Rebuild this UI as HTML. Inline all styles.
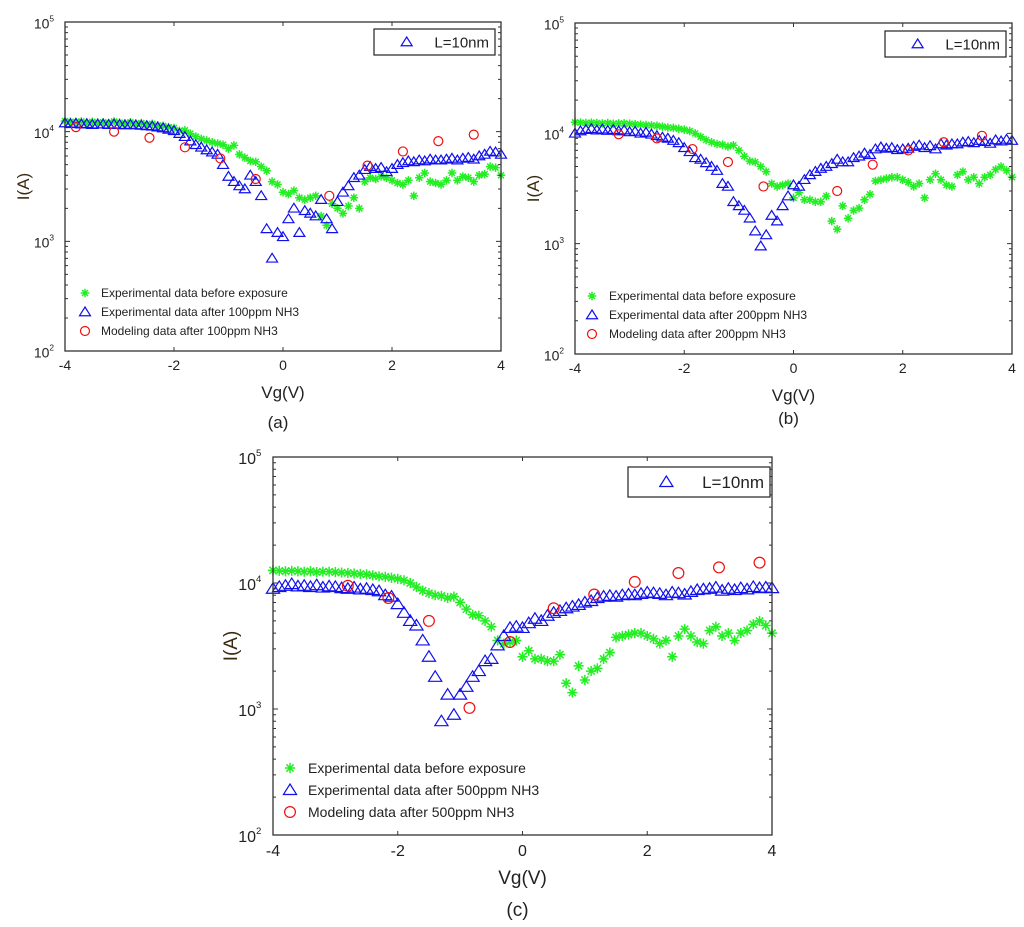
<!DOCTYPE html>
<html><head><meta charset="utf-8">
<style>
html,body{margin:0;padding:0;background:#fff;}
svg{display:block;font-family:"Liberation Sans",Arial,sans-serif;}
</style></head>
<body>
<svg id="fig" width="1024" height="927" viewBox="0 0 1024 927" xmlns="http://www.w3.org/2000/svg"></svg>
<script>
// shared x grid for dense series: -4..4 step 0.1
const vgGrid = [];
for (let i = 0; i <= 80; i++) vgGrid.push(Math.round((-4 + i * 0.1) * 10) / 10);

// Panel (a) data
const aGreen = [12500,12300,12200,12400,12000,12300,12100,12200,12000,12400,12100,11900,12200,11800,12000,11600,11800,11400,11300,11000,
 10800,10200,10300,9600,9000,8600,8300,8000,7800,7600,
 7000,7500,6200,5800,5400,5300,4800,4400,3500,3300,
 2800,2700,2900,2500,2400,2500,2600,1700,1400,2200,
 2000,1800,2100,2500,2000,3500,3800,3700,3900,3800,
 3600,3400,3300,3600,2600,3800,4200,3500,3400,3300,
 3600,4200,3600,3900,3800,3500,4000,4100,4800,4700,4000];
const aBlue = [12000,11800,11900,11700,11800,11600,11700,11700,11600,11700,11600,11500,11600,11500,11400,11300,11200,11000,10800,10500,
 10200,9600,9000,8200,7600,7200,6800,6500,6200,5000,
 3900,3500,3200,3000,4000,3500,2600,1300,700,1200,
 1100,1600,2000,1200,1900,1800,1700,2400,1600,1300,
 2300,2800,3200,3800,4000,4500,4800,4600,4700,4300,
 4600,5000,5200,5400,5300,5500,5400,5600,5500,5500,
 5600,5700,5500,5700,5800,5600,6000,6200,6600,6500,6200];
const aRedX = [-3.8,-3.1,-2.45,-1.8,-1.15,-0.5,0.85,1.55,2.2,2.85,3.5];
const aRedY = [11000,10000,8800,7200,5700,3700,2600,4900,6600,8200,9400];

// Panel (b) data
const bGreen = [12600,12500,12400,12500,12400,12300,12400,12200,12300,12300,12200,12100,12000,11900,11800,11700,11500,11300,11200,11000,
 10800,10500,10000,9300,8700,8300,8000,7900,7600,7800,
 7000,6200,5600,5500,5000,4500,3500,3300,3400,3500,
 2600,2900,2500,2500,2400,2400,2700,1600,1350,2200,
 1700,2000,2100,2500,2800,3700,3800,3900,4000,4000,
 3800,3600,3300,3500,2600,3800,4300,3800,3400,3300,
 4200,4500,3800,4000,3500,4000,4200,4700,5000,4600,4000];
const bBlue = [10000,10500,10800,11000,10700,10900,10600,10800,10500,10700,10300,10400,10000,10200,9800,9500,9200,9000,8600,8200,
 7400,6800,6000,5800,5400,5000,4600,3500,3300,2400,
 2200,2000,1700,1300,950,1200,1800,1600,2200,2700,
 3400,3300,3800,4200,4500,4800,5000,5300,5800,5500,
 5500,6000,6200,6600,6400,7200,7500,7300,7400,7100,
 7200,7300,7600,7800,7400,7700,7200,8000,7800,8000,
 8000,8300,8400,8200,8600,8400,8100,8700,8500,8800,8600];
const bRedX = [-3.2,-2.5,-1.85,-1.2,-0.55,0.8,1.45,2.1,2.75,3.45];
const bRedY = [9800,9000,7200,5500,3300,3000,5200,7000,8300,9500];

// Panel (c) data
const cGreen = bGreen.slice();
const cBlue = [9000,9300,9500,9800,9400,9500,9300,9600,9200,9400,9300,9100,9000,9200,8900,9000,8800,8600,8000,7800,
 6800,5800,5000,4600,3500,2600,1800,800,1300,900,
 1300,1500,1800,2000,2400,2500,3200,3800,4400,4500,
 4400,4800,5200,5000,5500,5800,6000,6300,6500,6700,
 7000,7200,7600,7800,7900,7800,8000,8100,8000,8200,
 8400,8300,8200,8000,8400,8300,8100,8500,8800,8900,
 9000,9200,8700,9000,8800,9100,8900,9300,9100,9200,9100];
const cRedX = [-2.8,-2.15,-1.5,-0.85,-0.2,0.5,1.15,1.8,2.5,3.15,3.8];
const cRedY = [9500,7600,5000,1020,3400,6300,8100,10200,12000,13300,14500];

const xTicks = [-4,-2,0,2,4];
const yDecades = [2,3,4,5];

const NS = "http://www.w3.org/2000/svg";
const svg = document.getElementById('fig');
function mk(tag, attrs, parent) {
  const e = document.createElementNS(NS, tag);
  for (const k in attrs) e.setAttribute(k, attrs[k]);
  (parent || svg).appendChild(e);
  return e;
}

function star(g, cx, cy, s) {
  const p = mk('path', {d:`M${cx-s},${cy}H${cx+s}M${cx},${cy-s}V${cy+s}M${cx-s*0.7},${cy-s*0.7}L${cx+s*0.7},${cy+s*0.7}M${cx-s*0.7},${cy+s*0.7}L${cx+s*0.7},${cy-s*0.7}`, stroke:'#22ee22', 'stroke-width':1.5, fill:'none'}, g);
  
  
}
function tri(g, cx, cy, s) {
  const p = mk('path', {d:`M${cx},${cy-s}L${cx+s*1.1},${cy+s*0.75}L${cx-s*1.1},${cy+s*0.75}Z`, stroke:'#1010ee', 'stroke-width':1.2, fill:'none'}, g);
  
  
}
function circ(g, cx, cy, r) {
  const c = mk('circle', {cx:cx, cy:cy, r:r, stroke:'#ee1111', 'stroke-width':1.2, fill:'none'}, g);
  
  
}

function panel(id, P, green, blue, redX, redY, ppm, opt) {
  const g = mk('g', {});
  
  
  const xs = v => P.x0 + (v + 4) / 8 * (P.x1 - P.x0);
  const ys = v => P.y1 - (Math.log10(v) - 2) / 3 * (P.y1 - P.y0);
  const gg = mk('g', {}, g);
  
  
  green.forEach((v, i) => star(gg, xs(vgGrid[i]), ys(v), opt.ms * 0.85));
  const bg = mk('g', {}, g);
  
  
  blue.forEach((v, i) => tri(bg, xs(vgGrid[i]), ys(v), opt.ms));
  const rg = mk('g', {}, g);
  
  
  redX.forEach((x, i) => circ(rg, xs(x), ys(redY[i]), opt.ms * 0.9));
  const fr = mk('rect', {x:P.x0, y:P.y0, width:P.x1-P.x0, height:P.y1-P.y0, fill:'none', stroke:'#333', 'stroke-width':1.3}, g);
  
  
  xTicks.forEach(t => {
    const x = xs(t);
    mk('path', {d:`M${x},${P.y1}v-4M${x},${P.y0}v4`, stroke:'#333'}, g);
    const tx = mk('text', {x:x, y:P.y1 + opt.fs + 5, 'font-size':opt.fs, 'text-anchor':'middle', fill:'#222'}, g);
    tx.textContent = t;
    
    
  });
  yDecades.forEach(d => {
    const y = ys(Math.pow(10, d));
    mk('path', {d:`M${P.x0},${y}h5M${P.x1},${y}h-5`, stroke:'#333'}, g);
    if (d < 5) for (let m = 2; m <= 9; m++) {
      const yy = ys(m * Math.pow(10, d));
      mk('path', {d:`M${P.x0},${yy}h3M${P.x1},${yy}h-3`, stroke:'#333'}, g);
    }
    const tx = mk('text', {x:P.x0 - 6 - opt.fs * 0.35, y:y + opt.fs * 0.45, 'font-size':opt.fs, 'text-anchor':'end', fill:'#222'}, g);
    
    
    tx.textContent = '10';
    const sup = mk('tspan', {'font-size':opt.fs * 0.6, dy:-opt.fs * 0.5}, tx);
    sup.textContent = d;
  });
  const xl = mk('text', {x:(P.x0+P.x1)/2, y:P.y1 + opt.fs + 33, 'font-size':opt.fs + 3, 'text-anchor':'middle', fill:'#222'}, g);
  xl.textContent = 'Vg(V)';
  
  
  const yl = mk('text', {x:0, y:0, 'font-size':opt.fs + 3, 'text-anchor':'middle', fill:'#3a2a10', transform:`translate(${P.x0 - 36},${(P.y0+P.y1)/2}) rotate(-90)`}, g);
  yl.textContent = 'I(A)';
  
  
  const cap = mk('text', {x:(P.x0+P.x1)/2 - 5, y:opt.capY, 'font-size':opt.fs + 3, 'text-anchor':'middle', fill:'#222'}, g);
  cap.textContent = '(' + id + ')';
  
  
  const lb = mk('g', {}, g);
  
  
  mk('rect', {x:opt.box[0], y:opt.box[1], width:opt.box[2], height:opt.box[3], fill:'#fff', stroke:'#222', 'stroke-width':1.2}, lb);
  tri(lb, opt.box[0] + opt.box[2]*0.27, opt.box[1] + opt.box[3]/2, opt.ms);
  const lt = mk('text', {x:opt.box[0] + opt.box[2] - 6, y:opt.box[1] + opt.box[3]/2 + opt.fs*0.38, 'font-size':opt.fs + 1, 'text-anchor':'end', fill:'#222'}, lb);
  lt.textContent = 'L=10nm';
  const lg = mk('g', {}, g);
  
  
  const labels = ['Experimental data before exposure', 'Experimental data after ' + ppm + 'ppm NH3', 'Modeling data after ' + ppm + 'ppm NH3'];
  labels.forEach((s, i) => {
    const y = opt.leg[1] + i * opt.leg[2];
    if (i === 0) star(lg, opt.leg[0], y, opt.ms * 0.85);
    if (i === 1) tri(lg, opt.leg[0], y, opt.ms);
    if (i === 2) circ(lg, opt.leg[0], y, opt.ms * 0.9);
    const t = mk('text', {x:opt.leg[0] + opt.leg[3], y:y + opt.lfs * 0.35, 'font-size':opt.lfs, fill:'#222'}, lg);
    t.textContent = s;
    
    
  });
}

panel('a', {x0:65, x1:501, y0:22, y1:351}, aGreen, aBlue, aRedX, aRedY, 100,
  {ms:5, fs:14, capY:428, box:[374,29,121,26], leg:[85,293,19,16], lfs:12});
panel('b', {x0:575, x1:1012, y0:23, y1:354}, bGreen, bBlue, bRedX, bRedY, 200,
  {ms:5, fs:14, capY:424, box:[885,31,121,26], leg:[592,296,19,17], lfs:12});
panel('c', {x0:273, x1:772, y0:457, y1:835}, cGreen, cBlue, cRedX, cRedY, 500,
  {ms:6, fs:16, capY:916, box:[628,467,142,30], leg:[290,768,22,18], lfs:14});
</script>
</body></html>
